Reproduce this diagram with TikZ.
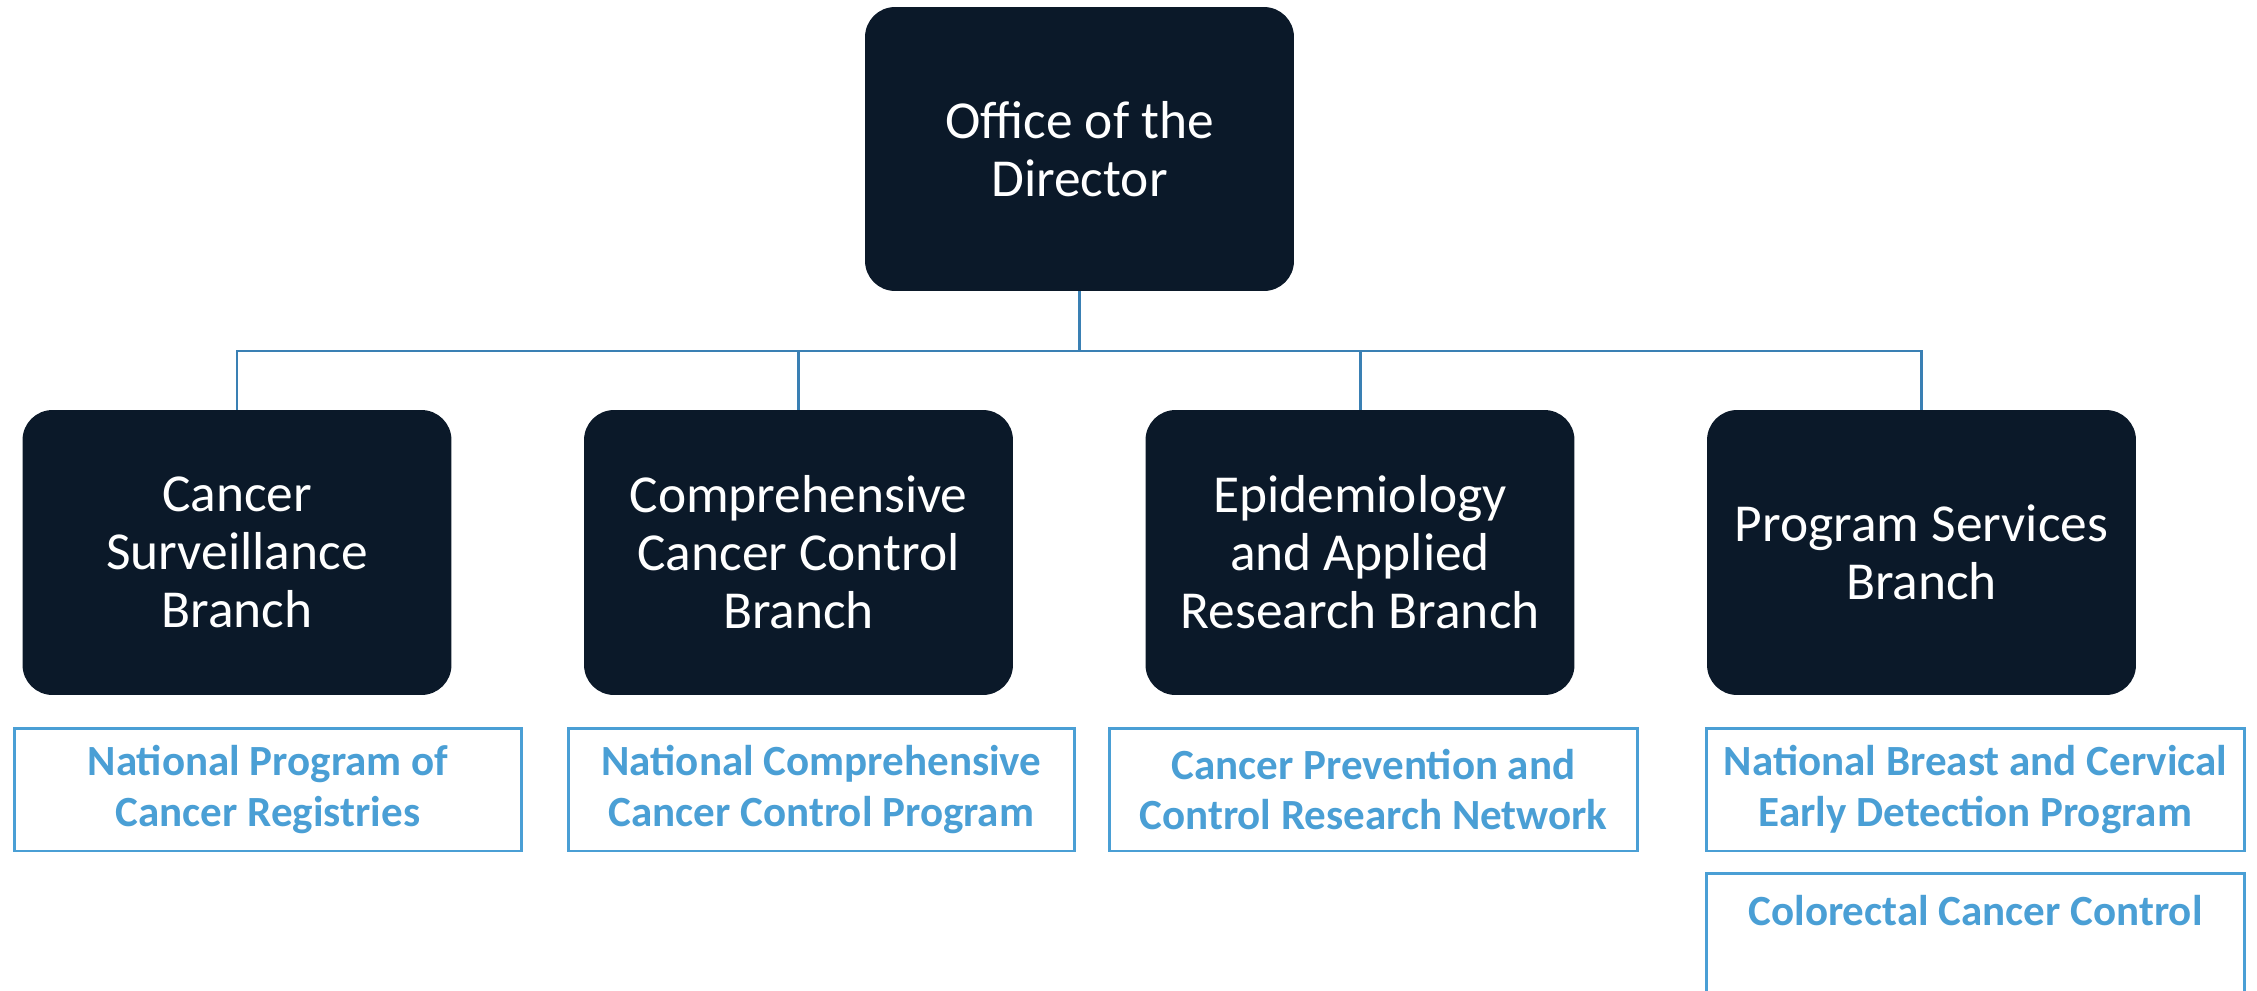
\documentclass[tikz,border=0pt]{standalone}
\usepackage{fontspec}
\setmainfont{Carlito}
\usetikzlibrary{positioning}

\definecolor{navy}{HTML}{0B1929}
\definecolor{linkblue}{HTML}{3A80B4}
\definecolor{progblue}{HTML}{4A9FD5}

\tikzset{
  branchbox/.style={draw=none, fill=navy, text=white, rounded corners=0.6cm,
    minimum width=8.58cm, minimum height=5.7cm, inner sep=0pt, align=center,
    font=\fontsize{30.4}{33}\selectfont},
  progbox/.style={draw=progblue, line width=1.7pt, text=progblue, fill=white,
    minimum height=2.46cm, inner sep=0pt, align=center,
    font=\fontsize{24.5}{29}\selectfont\bfseries},
  link/.style={draw=linkblue, line width=1.7pt}
}

\begin{document}
\begin{tikzpicture}[x=0.02cm, y=-0.02cm]
      \useasboundingbox (0,0) rectangle (2257,990);

      % Director at the top
      \node[branchbox, minimum height=5.68cm] (director) at (1079.5,149) {Office of the\\Director};

      % The four branches
      \node[branchbox] (surv) at (237,552.5) {Cancer\\Surveillance\\Branch};
      \node[branchbox] (ccc) at (798.5,552.5) {Comprehensive\\Cancer Control\\Branch};
      \node[branchbox] (epi) at (1360,552.5) {Epidemiology\\and Applied\\Research Branch};
      \node[branchbox] (psb) at (1921.5,552.5) {Program Services\\Branch};

      % Connectors from the director down to each branch
      \coordinate (bus) at (1079.5,351);
      \draw[link] (director.south) -- (bus);
      \draw[link] (bus) -| (surv.north);
      \draw[link] (bus) -| (ccc.north);
      \draw[link] (bus) -| (epi.north);
      \draw[link] (bus) -| (psb.north);

      % Programs run by each branch
      \node[progbox, minimum width=10.16cm] (npcr) at (268,789.5) {National Program of\\Cancer Registries};
      \node[progbox, minimum width=10.14cm] (nccc) at (821.5,789.5) {National Comprehensive\\Cancer Control Program};
      \node[progbox, minimum width=10.58cm] (ccrn) at (1373.5,789.5) {Cancer Prevention and\\Control Research Network};
      \node[progbox, minimum width=10.78cm] (nbc) at (1975.5,789.5) {National Breast and Cervical\\Early Detection Program};
      \node[progbox, minimum width=10.76cm, below=0.4cm of nbc] (crc) {Colorectal Cancer Control\\\mbox{}};
\end{tikzpicture}
\end{document}
